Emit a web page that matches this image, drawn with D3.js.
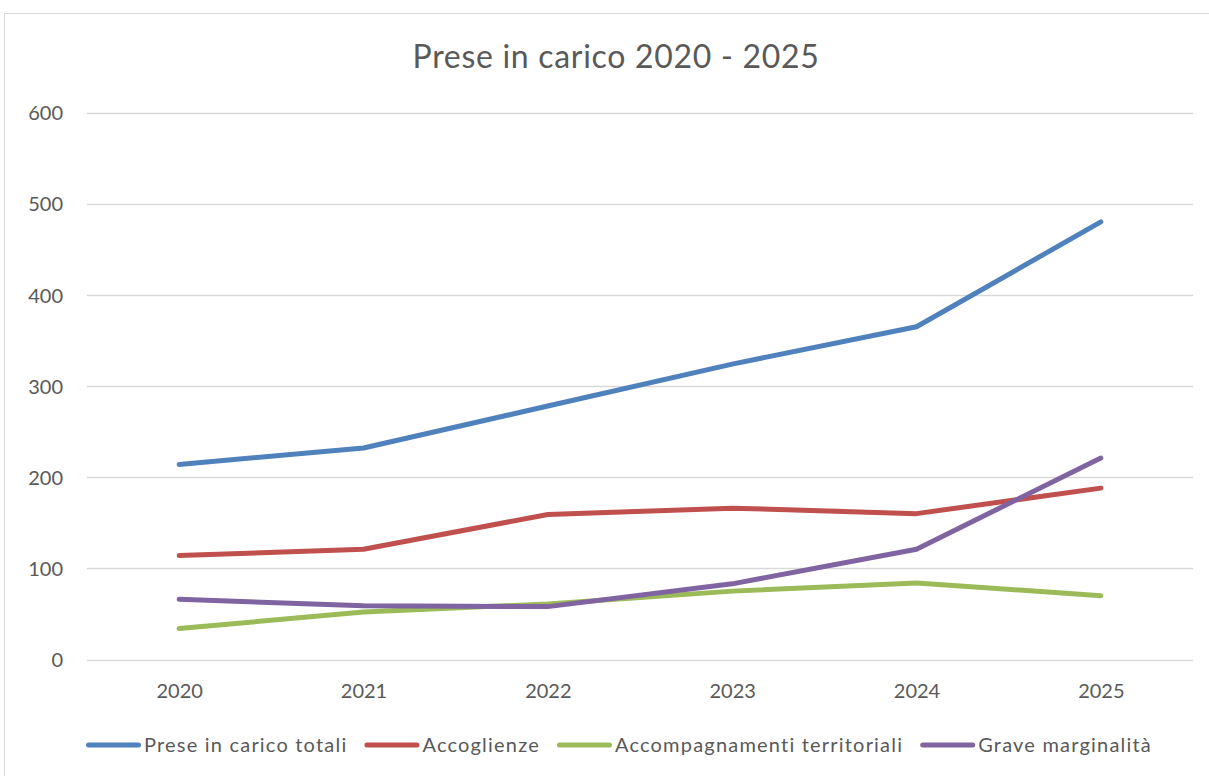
<!DOCTYPE html>
<html>
<head>
<meta charset="utf-8">
<script src="https://cdn.jsdelivr.net/npm/d3@7"></script>
<style>
  body { margin: 0; background: #fff; }
  svg { display: block; font-family: Lato, "Open Sans", sans-serif; }
</style>
</head>
<body>
<svg id="chart" width="1209" height="776"></svg>
<script>
// chart data
const years = ["2020", "2021", "2022", "2023", "2024", "2025"];
const seriesNames = ["Prese in carico totali", "Accoglienze", "Accompagnamenti territoriali", "Grave marginalità"];
const totali = [214, 232, 278, 324, 365, 480];
const accoglienze = [114, 121, 159, 166, 160, 188];
const accompagnamenti = [34, 52, 61, 75, 84, 70];
const marginalita = [66, 59, 58, 83, 121, 221];
const yTicks = [0, 100, 200, 300, 400, 500, 600];
const colors = ["#4f81bd", "#c0504d", "#9bbb59", "#8064a2"];

const seriesValues = [totali, accoglienze, accompagnamenti, marginalita];

const svg = d3.select("#chart");
const textColor = "#595959";

// outer chart border
svg.append("rect")
  .attr("x", 4.5).attr("y", 13.5)
  .attr("width", 1220).attr("height", 800)
  .attr("fill", "none")
  .attr("stroke", "#d9d9d9");

const plot = {left: 87, right: 1193, top: 112.5, bottom: 659.5};

const x = d3.scalePoint()
  .domain(years)
  .range([plot.left, plot.right])
  .padding(0.5);

const y = d3.scaleLinear()
  .domain([0, 600])
  .range([plot.bottom, plot.top]);

// title
svg.append("text")
  .attr("x", 616).attr("y", 68)
  .attr("text-anchor", "middle")
  .attr("fill", textColor)
  .style("font-size", "32px")
  .style("letter-spacing", "0.7px")
  .text("Prese in carico 2020 - 2025");

// gridlines
svg.append("g")
  .selectAll("line")
  .data(yTicks)
  .enter().append("line")
  .attr("x1", plot.left).attr("x2", plot.right)
  .attr("y1", d => Math.round(y(d)) + 0.5)
  .attr("y2", d => Math.round(y(d)) + 0.5)
  .attr("stroke", "#d9d9d9")
  .attr("stroke-width", 1.5);

// y axis labels
const yAxis = svg.append("g")
  .attr("transform", "translate(" + (plot.left - 24) + ",0)")
  .call(d3.axisLeft(y).tickValues(yTicks).tickSize(0).tickPadding(0));
yAxis.select(".domain").remove();
yAxis.selectAll("text")
  .attr("fill", textColor)
  .attr("dy", "0.36em")
  .style("font-size", "20px")
  .style("font-family", "Lato, 'Open Sans', sans-serif");

// x axis labels
const xAxis = svg.append("g")
  .attr("transform", "translate(0," + (plot.bottom + 24) + ")")
  .call(d3.axisBottom(x).tickSize(0).tickPadding(0));
xAxis.select(".domain").remove();
xAxis.selectAll("text")
  .attr("fill", textColor)
  .style("font-size", "20px")
  .style("font-family", "Lato, 'Open Sans', sans-serif");

// lines
const line = d3.line()
  .x((d, i) => x(years[i]))
  .y(d => y(d));

svg.append("g")
  .selectAll("path")
  .data(seriesValues)
  .enter().append("path")
  .attr("d", d => line(d))
  .attr("fill", "none")
  .attr("stroke", (d, i) => colors[i])
  .attr("stroke-width", 5)
  .attr("stroke-linecap", "round")
  .attr("stroke-linejoin", "round");

// legend
const legend = svg.append("g");
const legendY = 745;
const swatch = 55;
const gapAfterSwatch = 3;
const gapBetween = 17;

const items = legend.selectAll("g")
  .data(seriesNames)
  .enter().append("g");

items.append("line")
  .attr("x1", 2.5).attr("x2", swatch - 2.5)
  .attr("y1", 0).attr("y2", 0)
  .attr("stroke", (d, i) => colors[i])
  .attr("stroke-width", 5)
  .attr("stroke-linecap", "round");

items.append("text")
  .attr("x", swatch + gapAfterSwatch)
  .attr("y", 7)
  .attr("fill", textColor)
  .style("font-size", "20px")
  .style("letter-spacing", "1.2px")
  .text(d => d);

let widths = [];
items.each(function() {
  widths.push(swatch + gapAfterSwatch + d3.select(this).select("text").node().getComputedTextLength());
});
const total = d3.sum(widths) + gapBetween * (widths.length - 1);
let cx = 619 - total / 2;
items.attr("transform", function(d, i) {
  const t = "translate(" + cx + "," + legendY + ")";
  cx += widths[i] + gapBetween;
  return t;
});
</script>
</body>
</html>
